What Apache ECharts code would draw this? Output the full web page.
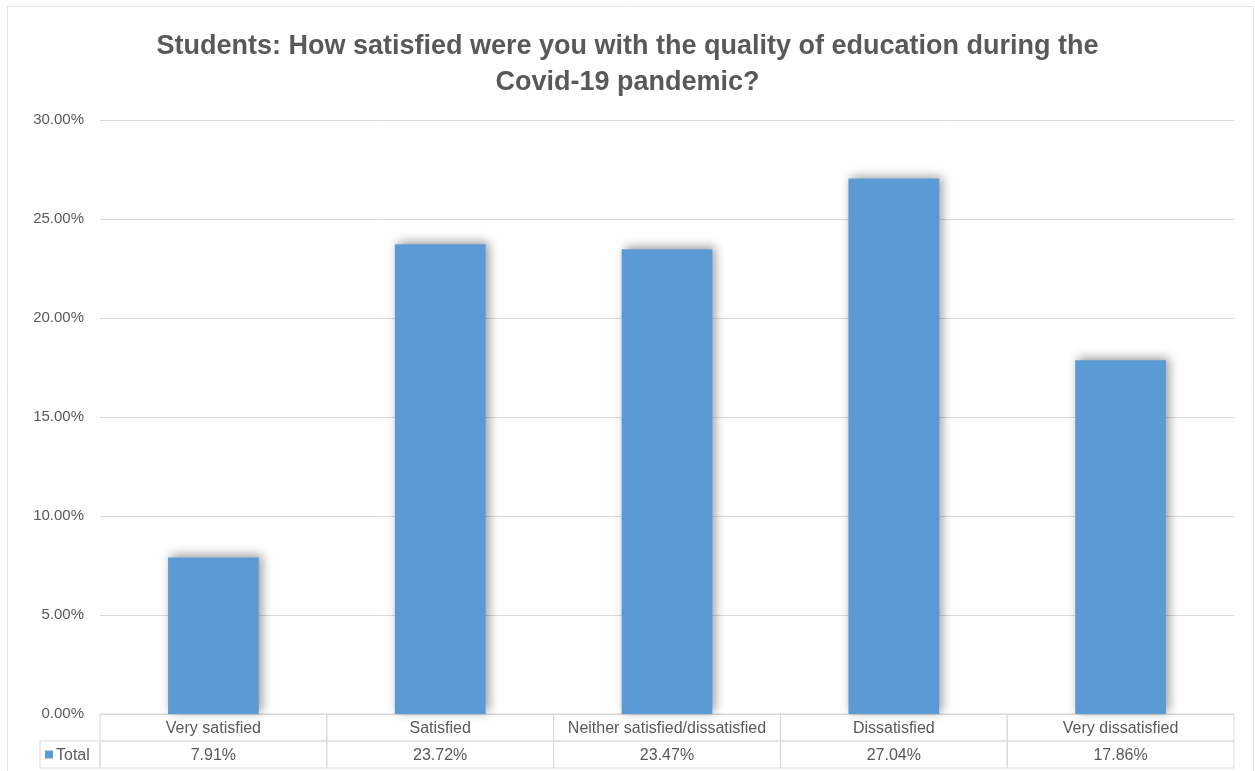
<!DOCTYPE html>
<html>
<head>
<meta charset="utf-8">
<script src="https://cdn.jsdelivr.net/npm/echarts@6/dist/echarts.min.js"></script>
<style>
  html, body { margin: 0; padding: 0; background: #ffffff; }
  #chart { width: 1255px; height: 771px; }
</style>
</head>
<body>
<div id="chart"></div>
<script>
// Survey answers and the share of students choosing each (percent)
const categories = ['Very satisfied', 'Satisfied', 'Neither satisfied/dissatisfied', 'Dissatisfied', 'Very dissatisfied'];
const shares = [7.91, 23.72, 23.47, 27.04, 17.86];
const seriesName = 'Total';
const yAxisMin = 0;
const yAxisMax = 30;
const yAxisStep = 5;
const tableRows = ['category', 'value'];

const BAR_BLUE = '#5b9bd5';
const TEXT_GREY = '#595959';
const LINE_GREY = '#d9d9d9';
const LABEL_FONT = '"Liberation Sans Narrow", "Liberation Sans", "Noto Sans", sans-serif';

const fmtPct = v => v.toFixed(2) + '%';

// One cell per category and row of the data table under the plot
const tableCells = [];
categories.forEach((c, i) => { tableCells.push([i, 0]); tableCells.push([i, 1]); });

const chart = echarts.init(document.getElementById('chart'), null, { renderer: 'canvas' });

chart.setOption({
  backgroundColor: '#ffffff',
  animation: false,
  title: {
    text: 'Students: How satisfied were you with the quality of education during the\nCovid-19 pandemic?',
    left: 'center',
    top: 24,
    textStyle: {
      fontFamily: '"Liberation Sans Narrow", "Liberation Sans", sans-serif',
      fontWeight: 'bold',
      fontSize: 27,
      lineHeight: 36,
      color: TEXT_GREY
    }
  },
  graphic: [{
    type: 'rect',
    shape: { x: 7.5, y: 6.5, width: 1246, height: 800 },
    style: { fill: 'none', stroke: '#e4e4e4', lineWidth: 1 },
    silent: true
  }],
  grid: [
    { left: 100, right: 21, top: 120, bottom: 57 },
    { left: 100, right: 21, top: 714, height: 54 }
  ],
  xAxis: [{
    gridIndex: 0,
    type: 'category',
    data: categories,
    axisLine: { show: true, lineStyle: { color: LINE_GREY } },
    axisTick: { show: false },
    axisLabel: { show: false }
  }, {
    gridIndex: 1,
    type: 'category',
    data: categories,
    show: false
  }],
  yAxis: [{
    gridIndex: 0,
    type: 'value',
    min: yAxisMin,
    max: yAxisMax,
    interval: yAxisStep,
    axisLine: { show: false },
    axisTick: { show: false },
    splitLine: { lineStyle: { color: LINE_GREY, width: 1 } },
    axisLabel: {
      formatter: v => fmtPct(v),
      color: TEXT_GREY,
      fontFamily: '"Liberation Sans", "Noto Sans", sans-serif',
      fontSize: 15,
      margin: 16
    }
  }, {
    gridIndex: 1,
    type: 'category',
    data: tableRows,
    inverse: true,
    show: false
  }],
  series: [{
    name: seriesName,
    type: 'bar',
    xAxisIndex: 0,
    yAxisIndex: 0,
    data: shares,
    barWidth: '40%',
    itemStyle: {
      color: BAR_BLUE,
      shadowColor: 'rgba(0,0,0,0.4)',
      shadowBlur: 10,
      shadowOffsetX: 3,
      shadowOffsetY: -2
    }
  }, {
    // data table: category names and values
    type: 'custom',
    xAxisIndex: 1,
    yAxisIndex: 1,
    data: tableCells,
    silent: true,
    renderItem: (params, api) => {
      const col = api.value(0);
      const row = api.value(1);
      const c = api.coord([col, row]);
      const s = api.size([1, 1]);
      const x = c[0] - s[0] / 2, y = c[1] - s[1] / 2;
      const txt = row === 0 ? categories[col] : fmtPct(shares[col]);
      return {
        type: 'group',
        children: [{
          type: 'rect',
          shape: { x: x, y: y, width: s[0], height: s[1] },
          style: { fill: 'none', stroke: LINE_GREY, lineWidth: 1 }
        }, {
          type: 'text',
          style: {
            text: txt, x: c[0], y: c[1] + 1,
            align: 'center', verticalAlign: 'middle',
            fill: TEXT_GREY, fontFamily: LABEL_FONT, fontSize: 16
          }
        }]
      };
    }
  }, {
    // legend key cell at the left of the value row
    type: 'custom',
    xAxisIndex: 1,
    yAxisIndex: 1,
    data: [[0, 1]],
    silent: true,
    clip: false,
    renderItem: (params, api) => {
      const c = api.coord([api.value(0), api.value(1)]);
      const s = api.size([1, 1]);
      const right = c[0] - s[0] / 2;
      const w = 60;
      const y = c[1] - s[1] / 2;
      return {
        type: 'group',
        children: [{
          type: 'rect',
          shape: { x: right - w, y: y, width: w, height: s[1] },
          style: { fill: 'none', stroke: LINE_GREY, lineWidth: 1 }
        }, {
          type: 'rect',
          shape: { x: right - w + 5, y: c[1] - 4, width: 8, height: 8 },
          style: { fill: BAR_BLUE }
        }, {
          type: 'text',
          style: {
            text: seriesName, x: right - w + 16, y: c[1] + 1,
            align: 'left', verticalAlign: 'middle',
            fill: TEXT_GREY, fontFamily: LABEL_FONT, fontSize: 16
          }
        }]
      };
    }
  }]
});
</script>
</body>
</html>
